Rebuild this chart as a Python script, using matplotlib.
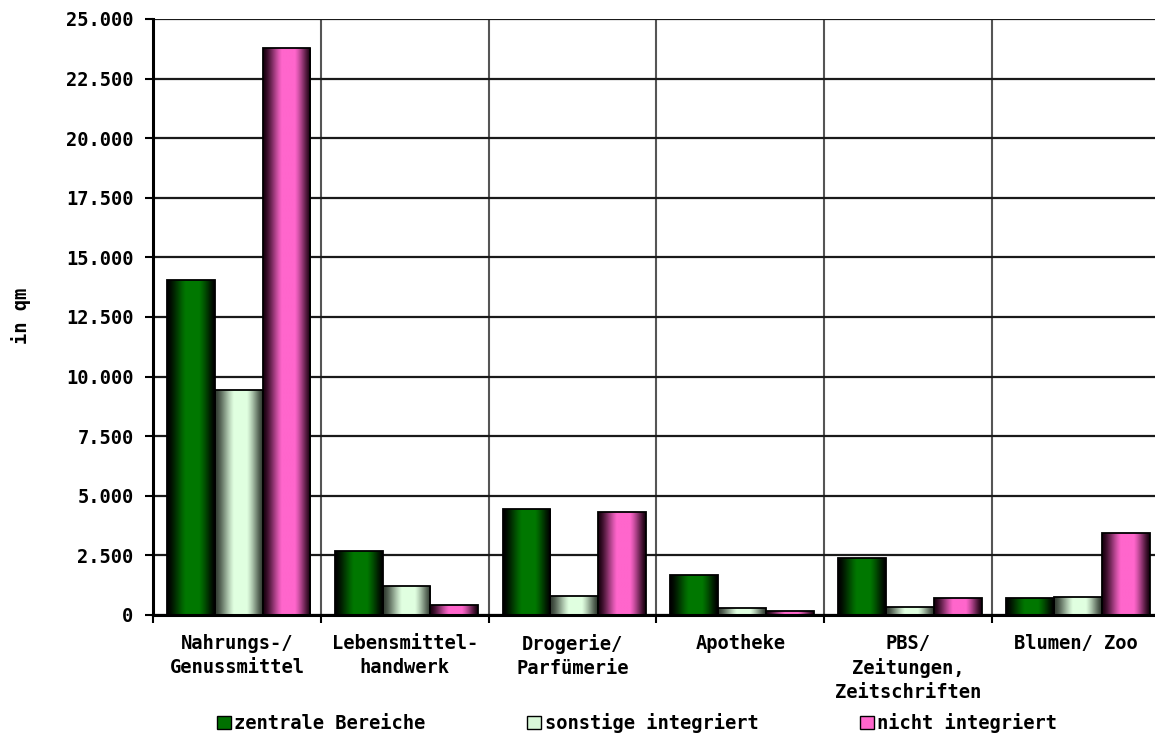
import numpy as np
import matplotlib
matplotlib.use("Agg")
import matplotlib.pyplot as plt
from matplotlib.patches import Patch
from matplotlib.ticker import FixedLocator, FuncFormatter

# Verkaufsflaeche nach Lagetyp (in qm)
kategorien = ["Nahrungs-/\nGenussmittel", "Lebensmittel-\nhandwerk", "Drogerie/\nParfümerie",
              "Apotheke", "PBS/\nZeitungen,\nZeitschriften", "Blumen/ Zoo"]
zentrale_bereiche = [14050, 2680, 4440, 1680, 2390, 710]
sonstige_integriert = [9450, 1210, 800, 290, 340, 750]
nicht_integriert = [23800, 420, 4310, 170, 710, 3430]

serien = ["zentrale Bereiche", "sonstige integriert", "nicht integriert"]
y_ticks = list(range(0, 25001, 2500))

plt.rcParams["font.family"] = ["DejaVu Sans Mono", "DejaVu Sans"]
plt.rcParams["font.weight"] = "bold"
FS = 13.5

# (dunkler Rand, helle Mitte) je Serie
farben = [((0.0, 0.0, 0.0), (0.0, 0.47, 0.0)),
          ((0.2, 0.24, 0.2), (0.88, 1.0, 0.88)),
          ((0.1, 0.0, 0.06), (1.0, 0.4, 0.8))]
legenden_farben = ["#007000", "#d8f8d8", "#ff66cc"]


def verlauf(dunkel, hell, n=64):
    t = np.linspace(0, 1, n)
    f = np.clip(1.15 * np.sin(np.pi * t ** 1.1) ** 1.3, 0, 1)
    dunkel = np.array(dunkel)
    hell = np.array(hell)
    return (dunkel[None, :] + f[:, None] * (hell - dunkel)[None, :])[None, :, :]


fig = plt.figure(figsize=(11.55, 7.33), dpi=100)
ax = fig.add_axes([153 / 1155, 1 - 615 / 733, 1007 / 1155, 596 / 733])

x = np.arange(len(kategorien))
w = 0.285
for i, werte in enumerate([zentrale_bereiche, sonstige_integriert, nicht_integriert]):
    bars = ax.bar(x + (i - 1) * w + 0.01, werte, width=w, facecolor="none",
                  edgecolor="black", linewidth=1.3, zorder=3)
    grad = verlauf(*farben[i])
    for rect in bars:
        x0 = rect.get_x()
        im = ax.imshow(grad, extent=[x0, x0 + rect.get_width(), 0, rect.get_height()],
                       aspect="auto", interpolation="bilinear", zorder=2)
        im.set_clip_path(rect)

ax.set_xlim(-0.5, len(kategorien) - 0.5)
ax.set_ylim(0, 25000)

# Gitter
ax.set_yticks(y_ticks)
ax.yaxis.set_major_formatter(FuncFormatter(lambda v, p: f"{int(v):,}".replace(",", ".")))
ax.yaxis.grid(True, color="#1a1a1a", linewidth=1.6, zorder=0)
ax.xaxis.set_major_locator(FixedLocator(np.arange(-0.5, len(kategorien), 1.0)))
ax.xaxis.set_major_formatter(FuncFormatter(lambda v, p: ""))
ax.xaxis.grid(True, color="#555555", linewidth=1.5, zorder=0)
ax.set_axisbelow(True)

ax.xaxis.set_minor_locator(FixedLocator(x))
ax.set_xticklabels(kategorien, minor=True, fontsize=FS, fontweight="bold", linespacing=1.3)
ax.tick_params(axis="x", which="minor", length=0, pad=14)
ax.tick_params(axis="x", which="major", length=6, width=1.5, direction="out")
ax.tick_params(axis="y", length=6, width=1.5, direction="out", pad=8, labelsize=FS)

for side in ["top", "right"]:
    ax.spines[side].set_visible(False)
ax.spines["left"].set_linewidth(2.2)
ax.spines["bottom"].set_linewidth(2.2)

ax.set_ylabel("in qm", fontsize=FS, fontweight="bold")
ax.yaxis.set_label_coords((31 - 153) / 1007, 0.502)

handles = [Patch(facecolor=c, edgecolor="black", linewidth=1) for c in legenden_farben]
fig.legend(handles, serien, loc="center", bbox_to_anchor=(637 / 1155, 1 - 723 / 733),
           ncol=3, frameon=False, fontsize=FS, handlelength=0.75, handleheight=0.75,
           handletextpad=0.2, columnspacing=5.4, borderpad=0, borderaxespad=0)

fig.savefig("out.png", dpi=100)
